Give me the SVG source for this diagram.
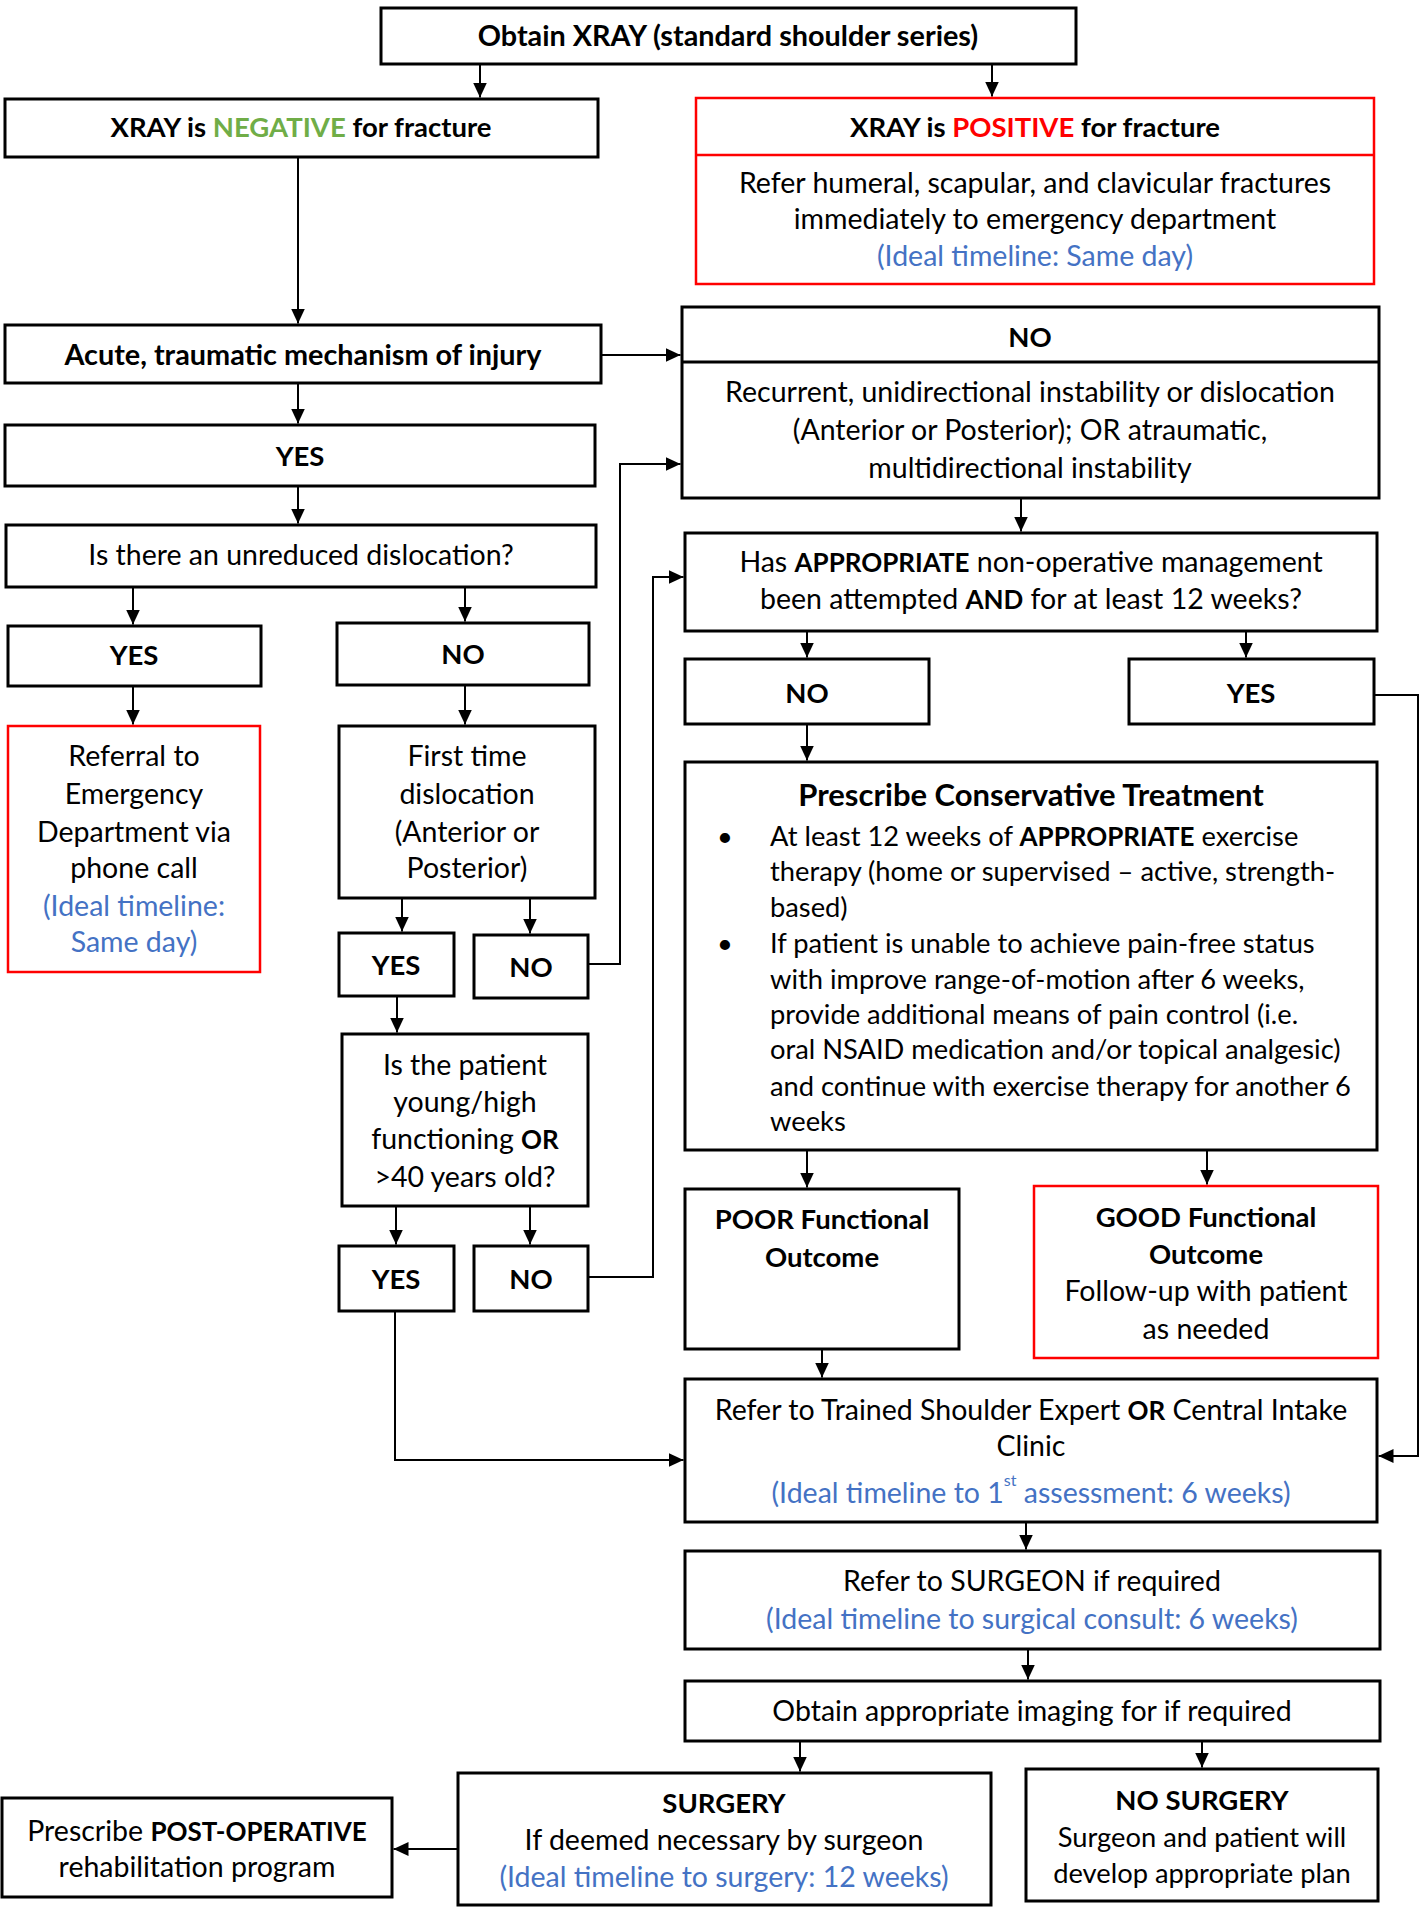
<svg xmlns="http://www.w3.org/2000/svg" width="1424" height="1908" viewBox="0 0 1424 1908">
<style>
.box{fill:#fff;stroke:#000;stroke-width:3}
.rbox{fill:#fff;stroke:#f00;stroke-width:2.5}
text{font-family:Lato,"Open Sans","Liberation Sans",sans-serif;font-size:28.5px;fill:#000;text-anchor:middle}
.b{font-weight:bold;font-size:27.5px}
.bb{font-weight:bold;font-size:28.8px}
.bc{font-weight:bold;font-size:26px}
.title{font-weight:bold;font-size:31px}
.sm{font-size:27.3px}
.blue{fill:#4472C4}
.green{fill:#70AD47}
.red{fill:#f00}
.l{text-anchor:start}
.conn path{stroke:#000;stroke-width:2;fill:none;marker-end:url(#ah)}
</style>
<defs>
<marker id="ah" viewBox="0 0 15 14" refX="15" refY="7" markerWidth="15" markerHeight="14" markerUnits="userSpaceOnUse" orient="auto"><path d="M0,0 L15,7 L0,14 z" fill="#000"/></marker>
</defs>
<rect width="1424" height="1908" fill="#fff"/>

<g id="connectors" class="conn">
<path d="M480,64 V97.5"/>
<path d="M992,64 V96.5"/>
<path d="M298,157 V323.5"/>
<path d="M601,355 H680.5"/>
<path d="M298,383 V423.5"/>
<path d="M298,486 V523.5"/>
<path d="M133,587 V624.5"/>
<path d="M465,587 V621.5"/>
<path d="M133,686 V724.5"/>
<path d="M465,685 V724.5"/>
<path d="M402,898 V931.5"/>
<path d="M530,898 V933.5"/>
<path d="M588,964 H620 V464 H680.5"/>
<path d="M397,996 V1032.5"/>
<path d="M396,1206 V1244.5"/>
<path d="M530,1206 V1244.5"/>
<path d="M588,1277 H653 V577 H683.5"/>
<path d="M395,1311 V1460 H683.5"/>
<path d="M1021,498 V531.5"/>
<path d="M807,631 V657.5"/>
<path d="M1246,631 V657.5"/>
<path d="M1374,695 H1418 V1456 H1378.5"/>
<path d="M807,724 V760.5"/>
<path d="M807,1150 V1187.5"/>
<path d="M1207,1150 V1184.5"/>
<path d="M822,1349 V1377.5"/>
<path d="M1026,1522 V1549.5"/>
<path d="M1028,1649 V1679.5"/>
<path d="M800,1741 V1771.5"/>
<path d="M1202,1741 V1767.5"/>
<path d="M458,1849 H393.5"/>
</g>

<g id="n1">
<rect class="box" x="381" y="8" width="695" height="56"/>
<text class="bb" x="728" y="46">Obtain XRAY (standard shoulder series)</text>
</g>
<g id="n2">
<rect class="box" x="5" y="99" width="593" height="58"/>
<text class="b" x="301" y="137">XRAY is <tspan class="green">NEGATIVE</tspan> for fracture</text>
</g>
<g id="n3">
<rect class="rbox" x="696" y="98" width="678" height="186"/>
<line x1="696" y1="155" x2="1374" y2="155" stroke="#f00" stroke-width="2.5"/>
<text class="b" x="1035" y="137">XRAY is <tspan class="red">POSITIVE</tspan> for fracture</text>
<text x="1035" y="193">Refer humeral, scapular, and clavicular fractures</text>
<text x="1035" y="229">immediately to emergency department</text>
<text class="blue" x="1035" y="266">(Ideal timeline: Same day)</text>
</g>
<g id="n4">
<rect class="box" x="5" y="325" width="596" height="58"/>
<text class="bb" x="303" y="365">Acute, traumatic mechanism of injury</text>
</g>
<g id="n5">
<rect class="box" x="682" y="307" width="697" height="191"/>
<line x1="682" y1="362" x2="1379" y2="362" stroke="#000" stroke-width="3"/>
<text class="b" x="1030" y="347">NO</text>
<text x="1030" y="402">Recurrent, unidirectional instability or dislocation</text>
<text x="1030" y="440">(Anterior or Posterior); OR atraumatic,</text>
<text x="1030" y="478">multidirectional instability</text>
</g>
<g id="n6">
<rect class="box" x="5" y="425" width="590" height="61"/>
<text class="b" x="300" y="466">YES</text>
</g>
<g id="n7">
<rect class="box" x="6" y="525" width="590" height="62"/>
<text x="301" y="565">Is there an unreduced dislocation?</text>
</g>
<g id="n8">
<rect class="box" x="8" y="626" width="253" height="60"/>
<text class="b" x="134" y="665">YES</text>
</g>
<g id="n9">
<rect class="box" x="337" y="623" width="252" height="62"/>
<text class="b" x="463" y="664">NO</text>
</g>
<g id="n10">
<rect class="rbox" x="8" y="726" width="252" height="246"/>
<text x="134" y="766">Referral to</text>
<text x="134" y="804">Emergency</text>
<text x="134" y="842">Department via</text>
<text x="134" y="878">phone call</text>
<text class="blue" x="134" y="916">(Ideal timeline:</text>
<text class="blue" x="134" y="952">Same day)</text>
</g>
<g id="n11">
<rect class="box" x="339" y="726" width="256" height="172"/>
<text x="467" y="766">First time</text>
<text x="467" y="804">dislocation</text>
<text x="467" y="842">(Anterior or</text>
<text x="467" y="878">Posterior)</text>
</g>
<g id="n12">
<rect class="box" x="339" y="933" width="115" height="63"/>
<text class="b" x="396" y="975">YES</text>
</g>
<g id="n13">
<rect class="box" x="474" y="935" width="114" height="63"/>
<text class="b" x="531" y="977">NO</text>
</g>
<g id="n14">
<rect class="box" x="342" y="1034" width="246" height="172"/>
<text x="465" y="1075">Is the patient</text>
<text x="465" y="1112">young/high</text>
<text x="465" y="1149">functioning <tspan class="bc">OR</tspan></text>
<text x="465" y="1187">&gt;40 years old?</text>
</g>
<g id="n15">
<rect class="box" x="339" y="1246" width="115" height="65"/>
<text class="b" x="396" y="1289">YES</text>
</g>
<g id="n16">
<rect class="box" x="474" y="1246" width="114" height="65"/>
<text class="b" x="531" y="1289">NO</text>
</g>
<g id="n17">
<rect class="box" x="685" y="533" width="692" height="98"/>
<text x="1031" y="572">Has <tspan class="bc">APPROPRIATE</tspan> non-operative management</text>
<text x="1031" y="609">been attempted <tspan class="bc">AND</tspan> for at least 12 weeks?</text>
</g>
<g id="n18">
<rect class="box" x="685" y="659" width="244" height="65"/>
<text class="b" x="807" y="703">NO</text>
</g>
<g id="n19">
<rect class="box" x="1129" y="659" width="245" height="65"/>
<text class="b" x="1251" y="703">YES</text>
</g>
<g id="n20">
<rect class="box" x="685" y="762" width="692" height="388"/>
<text class="title" x="1031" y="806">Prescribe Conservative Treatment</text>
<text class="sm" x="725" y="846">•</text>
<text class="l sm" x="770" y="846">At least 12 weeks of <tspan class="bc">APPROPRIATE</tspan> exercise</text>
<text class="l sm" x="770" y="881">therapy (home or supervised – active, strength-</text>
<text class="l sm" x="770" y="917">based)</text>
<text class="sm" x="725" y="953">•</text>
<text class="l sm" x="770" y="953">If patient is unable to achieve pain-free status</text>
<text class="l sm" x="770" y="989">with improve range-of-motion after 6 weeks,</text>
<text class="l sm" x="770" y="1024">provide additional means of pain control (i.e.</text>
<text class="l sm" x="770" y="1059">oral NSAID medication and/or topical analgesic)</text>
<text class="l sm" x="770" y="1096">and continue with exercise therapy for another 6</text>
<text class="l sm" x="770" y="1131">weeks</text>
</g>
<g id="n21">
<rect class="box" x="685" y="1189" width="274" height="160"/>
<text class="b" x="822" y="1229">POOR Functional</text>
<text class="b" x="822" y="1267">Outcome</text>
</g>
<g id="n22">
<rect class="rbox" x="1034" y="1186" width="344" height="172"/>
<text class="b" x="1206" y="1227">GOOD Functional</text>
<text class="b" x="1206" y="1264">Outcome</text>
<text x="1206" y="1301">Follow-up with patient</text>
<text x="1206" y="1339">as needed</text>
</g>
<g id="n23">
<rect class="box" x="685" y="1379" width="692" height="143"/>
<text x="1031" y="1420">Refer to Trained Shoulder Expert <tspan class="bc">OR</tspan> Central Intake</text>
<text x="1031" y="1456">Clinic</text>
<text class="blue" x="1031" y="1503">(Ideal timeline to 1<tspan font-size="16" dy="-17">st</tspan><tspan dy="17"> assessment: 6 weeks)</tspan></text>
</g>
<g id="n24">
<rect class="box" x="685" y="1551" width="695" height="98"/>
<text x="1032" y="1591">Refer to SURGEON if required</text>
<text class="blue" x="1032" y="1629">(Ideal timeline to surgical consult: 6 weeks)</text>
</g>
<g id="n25">
<rect class="box" x="685" y="1681" width="695" height="60"/>
<text x="1032" y="1721">Obtain appropriate imaging for if required</text>
</g>
<g id="n26">
<rect class="box" x="458" y="1773" width="533" height="132"/>
<text class="b" x="724" y="1813">SURGERY</text>
<text x="724" y="1850">If deemed necessary by surgeon</text>
<text class="blue" x="724" y="1887">(Ideal timeline to surgery: 12 weeks)</text>
</g>
<g id="n27">
<rect class="box" x="1026" y="1769" width="352" height="132"/>
<text class="b" x="1202" y="1810">NO SURGERY</text>
<text class="sm" x="1202" y="1847">Surgeon and patient will</text>
<text class="sm" x="1202" y="1883">develop appropriate plan</text>
</g>
<g id="n28">
<rect class="box" x="2" y="1798" width="390" height="99"/>
<text x="197" y="1841">Prescribe <tspan class="bc">POST-OPERATIVE</tspan></text>
<text x="197" y="1877">rehabilitation program</text>
</g>
</svg>
